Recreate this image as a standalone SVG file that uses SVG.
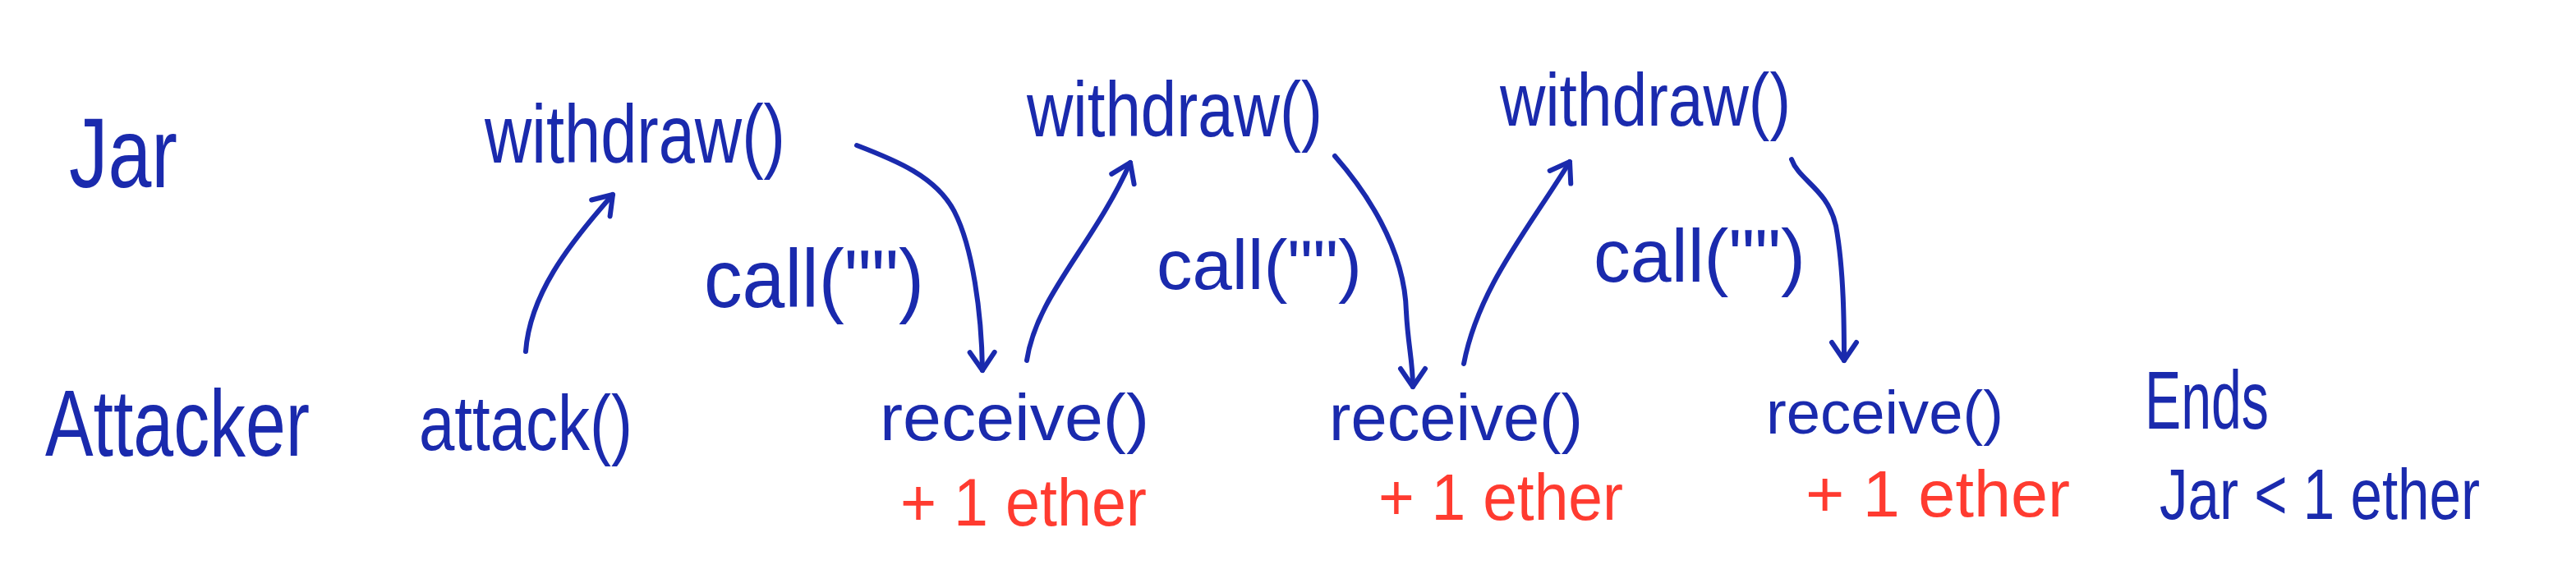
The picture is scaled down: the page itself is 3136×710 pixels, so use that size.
<svg xmlns="http://www.w3.org/2000/svg" width="3136" height="710" viewBox="0 0 3136 710">
  <style>
    text { font-family: "Liberation Sans", "DejaVu Sans", sans-serif; }
    .b { fill: #1a2aad; }
    .r { fill: #ff3b30; }
    .edge { fill: none; stroke: #1a2aad; stroke-width: 6; stroke-linecap: round; stroke-linejoin: round; }
  </style>
  <defs>
    <marker id="ah" markerUnits="userSpaceOnUse" viewBox="-30 -20 40 40" refX="0" refY="0" markerWidth="40" markerHeight="40" orient="auto">
      <path d="M-22,-15 L0,0 L-22,15" fill="none" stroke="#1a2aad" stroke-width="6" stroke-linecap="round" stroke-linejoin="round"/>
    </marker>
  </defs>
  <rect width="3136" height="710" fill="#ffffff"/>

  <g id="label-jar"><text class="b" x="84" y="228" font-size="120" textLength="132" lengthAdjust="spacingAndGlyphs">Jar</text></g>
  <g id="label-attacker"><text class="b" x="55" y="555" font-size="115" textLength="322" lengthAdjust="spacingAndGlyphs">Attacker</text></g>

  <g id="attack"><text class="b" x="510" y="548" font-size="95" textLength="260" lengthAdjust="spacingAndGlyphs">attack()</text></g>

  <g id="withdraw1"><text class="b" x="590" y="198" font-size="100" textLength="366" lengthAdjust="spacingAndGlyphs">withdraw()</text></g>
  <g id="withdraw2"><text class="b" x="1250" y="166" font-size="95" textLength="360" lengthAdjust="spacingAndGlyphs">withdraw()</text></g>
  <g id="withdraw3"><text class="b" x="1826" y="153" font-size="90" textLength="354" lengthAdjust="spacingAndGlyphs">withdraw()</text></g>

  <g id="call1"><text class="b" x="857" y="374" font-size="100" textLength="268" lengthAdjust="spacingAndGlyphs">call("")</text></g>
  <g id="call2"><text class="b" x="1408" y="352" font-size="85" textLength="250" lengthAdjust="spacingAndGlyphs">call("")</text></g>
  <g id="call3"><text class="b" x="1940" y="343" font-size="90" textLength="258" lengthAdjust="spacingAndGlyphs">call("")</text></g>

  <g id="receive1">
    <text class="b" x="1071" y="536" font-size="80" textLength="328" lengthAdjust="spacingAndGlyphs">receive()</text>
    <text class="r" x="1096" y="640" font-size="82" textLength="300" lengthAdjust="spacingAndGlyphs">+ 1 ether</text>
  </g>
  <g id="receive2">
    <text class="b" x="1618" y="536" font-size="80" textLength="309" lengthAdjust="spacingAndGlyphs">receive()</text>
    <text class="r" x="1678" y="633" font-size="80" textLength="298" lengthAdjust="spacingAndGlyphs">+ 1 ether</text>
  </g>
  <g id="receive3">
    <text class="b" x="2150" y="528" font-size="74" textLength="289" lengthAdjust="spacingAndGlyphs">receive()</text>
    <text class="r" x="2198" y="629" font-size="80" textLength="322" lengthAdjust="spacingAndGlyphs">+ 1 ether</text>
  </g>

  <g id="ends">
    <text class="b" x="2611" y="522" font-size="100" textLength="151" lengthAdjust="spacingAndGlyphs">Ends</text>
    <text class="b" x="2629" y="632" font-size="88" textLength="390" lengthAdjust="spacingAndGlyphs">Jar &lt; 1 ether</text>
  </g>

  <g id="connectors">
    <path class="edge" marker-end="url(#ah)" d="M640,428 C645,360 690,300 746,237"/>
    <path class="edge" marker-end="url(#ah)" d="M1043,177 C1090,195 1140,215 1162,258 S1195,380 1196,451"/>
    <path class="edge" marker-end="url(#ah)" d="M1250,439 C1262,360 1330,300 1376,198"/>
    <path class="edge" marker-end="url(#ah)" d="M1625,190 C1660,230 1710,300 1712,380 C1714,420 1720,440 1720,471"/>
    <path class="edge" marker-end="url(#ah)" d="M1782,443 C1800,350 1860,280 1911,197"/>
    <path class="edge" marker-end="url(#ah)" d="M2181,194 C2190,220 2225,230 2235,275 C2245,330 2245,400 2245,439"/>
  </g>
</svg>
